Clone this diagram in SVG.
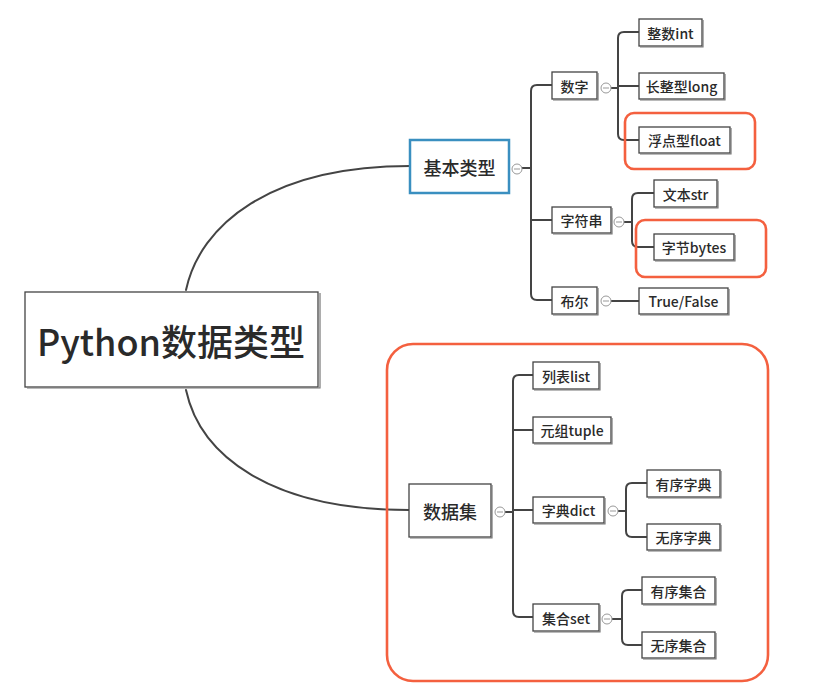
<svg xmlns="http://www.w3.org/2000/svg" width="834" height="697" viewBox="0 0 834 697">
<style>
.box{fill:#fff;stroke:#444;stroke-width:1.3}
.sh{fill:none;stroke:#777;stroke-width:1.2}
.t{font-family:"Noto Sans CJK SC","Noto Sans",sans-serif;fill:#2a2a2a;font-size:14px;font-weight:500;text-anchor:middle;dominant-baseline:central}
.c{fill:none;stroke:#444;stroke-width:2;stroke-linecap:round}
.m{fill:#fff;stroke:#999;stroke-width:1}
.red{fill:none;stroke:#f4603f;stroke-width:2.6}
</style>
<rect width="834" height="697" fill="#fff"/>
<g id="connectors">
<path class="c" d="M186 290 C200 225 270 166 410 166"/>
<path class="c" d="M186 390 C200 455 270 510 409 510"/>
<path class="c" d="M522 168 H531 M552 85 H537 Q531 85 531 91 V294 Q531 300 537 300 H552 M531 220 H552"/>
<path class="c" d="M611 88 H618 M639 32 H624 Q618 32 618 38 V134 Q618 140 624 140 H639 M618 86 H639"/>
<path class="c" d="M624 222 H632 M654 193 H638 Q632 193 632 199 V241 Q632 247 638 247 H654"/>
<path class="c" d="M611 301 H639"/>
<path class="c" d="M505 512 H513 M533 375 H519 Q513 375 513 381 V611 Q513 617 519 617 H533 M513 430 H533 M513 510 H533"/>
<path class="c" d="M618 511 H626 M647 483 H632 Q626 483 626 489 V531 Q626 537 632 537 H647"/>
<path class="c" d="M612 619 H622 M642 590 H628 Q622 590 622 596 V639 Q622 645 628 645 H642"/>
</g>
<g id="markers">
<circle class="m" cx="517" cy="169" r="5"/><path stroke="#999" d="M514 169 H520"/>
<circle class="m" cx="606" cy="88" r="5"/><path stroke="#999" d="M603 88 H609"/>
<circle class="m" cx="619" cy="222" r="5"/><path stroke="#999" d="M616 222 H622"/>
<circle class="m" cx="606" cy="301" r="5"/><path stroke="#999" d="M603 301 H609"/>
<circle class="m" cx="500" cy="512" r="5"/><path stroke="#999" d="M497 512 H503"/>
<circle class="m" cx="613" cy="511" r="5"/><path stroke="#999" d="M610 511 H616"/>
<circle class="m" cx="607" cy="619" r="5"/><path stroke="#999" d="M604 619 H610"/>
</g>
<g id="root">
<rect class="box" x="25" y="292" width="293" height="95" stroke="#222" stroke-width="2"/>
<path class="sh" d="M320 293 V388 H27"/>
<text class="t" x="171" y="340" style="font-size:36px">Python数据类型</text>
</g>
<g id="basic">
<rect x="410" y="140" width="99" height="53" fill="#fff" stroke="#3a8fc0" stroke-width="2.5"/>
<text class="t" x="459.5" y="167" style="font-size:18px">基本类型</text>
</g>
<g id="num"><rect class="box" x="552" y="72" width="45" height="27"/><path class="sh" d="M598 73 V100 H553"/><text class="t" x="574.5" y="85.5">数字</text></g>
<g id="int"><rect class="box" x="639" y="19" width="63" height="27"/><path class="sh" d="M703 20 V47 H640"/><text class="t" x="670.5" y="32.5">整数int</text></g>
<g id="long"><rect class="box" x="639" y="73" width="85" height="26"/><path class="sh" d="M725 74 V100 H640"/><text class="t" x="681.5" y="86">长整型long</text></g>
<g id="float"><rect class="box" x="639" y="127" width="91" height="26"/><path class="sh" d="M731 128 V154 H640"/><text class="t" x="684.5" y="140">浮点型float</text></g>
<g id="str"><rect class="box" x="552" y="207" width="59" height="26"/><path class="sh" d="M612 208 V234 H553"/><text class="t" x="581.5" y="220">字符串</text></g>
<g id="strtext"><rect class="box" x="654" y="180" width="63" height="27"/><path class="sh" d="M718 181 V208 H655"/><text class="t" x="685.5" y="193.5">文本str</text></g>
<g id="bytes"><rect class="box" x="654" y="234" width="80" height="26"/><path class="sh" d="M735 235 V261 H655"/><text class="t" x="694" y="247">字节bytes</text></g>
<g id="bool"><rect class="box" x="552" y="287" width="45" height="27"/><path class="sh" d="M598 288 V315 H553"/><text class="t" x="574.5" y="300.5">布尔</text></g>
<g id="truefalse"><rect class="box" x="639" y="288" width="89" height="26"/><path class="sh" d="M729 289 V315 H640"/><text class="t" x="683.5" y="301">True/False</text></g>
<g id="dataset"><rect class="box" x="409" y="484" width="82" height="53"/><path class="sh" d="M492 485 V538 H410"/><text class="t" x="450" y="510.5" style="font-size:18px">数据集</text></g>
<g id="list"><rect class="box" x="533" y="362" width="66" height="27"/><path class="sh" d="M600 363 V390 H534"/><text class="t" x="566" y="375.5">列表list</text></g>
<g id="tuple"><rect class="box" x="533" y="417" width="78" height="26"/><path class="sh" d="M612 418 V444 H534"/><text class="t" x="572" y="430">元组tuple</text></g>
<g id="dict"><rect class="box" x="533" y="497" width="71" height="26"/><path class="sh" d="M605 498 V524 H534"/><text class="t" x="568.5" y="510">字典dict</text></g>
<g id="odict"><rect class="box" x="647" y="470" width="73" height="27"/><path class="sh" d="M721 471 V498 H648"/><text class="t" x="683.5" y="483.5">有序字典</text></g>
<g id="udict"><rect class="box" x="647" y="524" width="73" height="26"/><path class="sh" d="M721 525 V551 H648"/><text class="t" x="683.5" y="537">无序字典</text></g>
<g id="set"><rect class="box" x="533" y="604" width="66" height="27"/><path class="sh" d="M600 605 V632 H534"/><text class="t" x="566" y="617.5">集合set</text></g>
<g id="oset"><rect class="box" x="642" y="577" width="73" height="27"/><path class="sh" d="M716 578 V605 H643"/><text class="t" x="678.5" y="590.5">有序集合</text></g>
<g id="uset"><rect class="box" x="642" y="632" width="73" height="26"/><path class="sh" d="M716 633 V659 H643"/><text class="t" x="678.5" y="645">无序集合</text></g>
<g id="highlights">
<rect class="red" x="625" y="113" width="130" height="56" rx="9"/>
<rect class="red" x="636" y="220" width="130" height="57" rx="9"/>
<rect class="red" x="387" y="344" width="381" height="337" rx="26"/>
</g>
</svg>
